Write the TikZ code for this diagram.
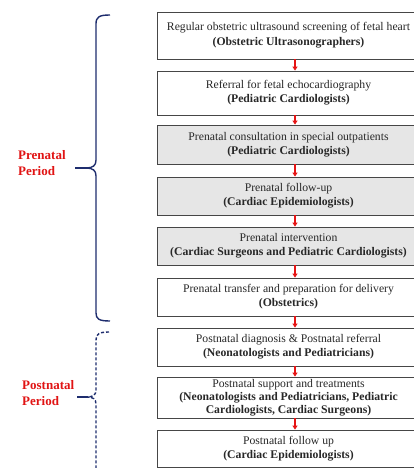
\documentclass[tikz,border=0pt]{standalone}
\usepackage{fontspec}
\setmainfont{Liberation Serif}
\usetikzlibrary{arrows.meta}
\definecolor{arrred}{RGB}{230,20,20}
\definecolor{labred}{RGB}{225,20,20}
\definecolor{bracenavy}{RGB}{30,45,110}
\definecolor{boxgray}{RGB}{230,230,230}
\definecolor{boxline}{RGB}{70,70,70}
\definecolor{boxtext}{RGB}{40,40,40}
\tikzset{
  stagebox/.style={draw=boxline, line width=0.9pt, fill=white, minimum width=263pt, text=boxtext,
    align=center, inner sep=0pt, font=\fontsize{11.7}{13.8}\selectfont},
  graybox/.style={stagebox, fill=boxgray},
  flowarrow/.style={draw=arrred, line width=1.3pt, -{Triangle[length=4pt,width=5pt]}},
  period/.style={text=labred, font=\fontsize{13}{16}\selectfont\bfseries, align=left, inner sep=0pt, anchor=west},
  bracesolid/.style={draw=bracenavy, line width=1.4pt},
  bracedashed/.style={draw=bracenavy, line width=1.4pt, dash pattern=on 3pt off 2pt}
}
\begin{document}
\begin{tikzpicture}[x=1pt,y=-1pt]
\useasboundingbox (0,0) rectangle (414,468);
\clip (0,0) rectangle (414,468);
\fill[white] (0,0) rectangle (414,468);

\node[stagebox, minimum height=47pt, font=\fontsize{11.7}{15}\selectfont] (b1) at (288.5,35.5)
  {Regular obstetric ultrasound screening of fetal heart\\\textbf{(Obstetric Ultrasonographers)}};
\node[stagebox, minimum height=44pt] (b2) at (288.5,93)
  {Referral for fetal echocardiography\\\textbf{(Pediatric Cardiologists)}};
\node[graybox, minimum height=39pt] (b3) at (288.5,144.5)
  {Prenatal consultation in special outpatients\\\textbf{(Pediatric Cardiologists)}};
\node[graybox, minimum height=38pt] (b4) at (288.5,196)
  {Prenatal follow-up\\\textbf{(Cardiac Epidemiologists)}};
\node[graybox, minimum height=38pt] (b5) at (288.5,246)
  {Prenatal intervention\\\textbf{(Cardiac Surgeons and Pediatric Cardiologists)}};
\node[stagebox, minimum height=38pt] (b6) at (288.5,297)
  {Prenatal transfer and preparation for delivery\\\textbf{(Obstetrics)}};
\node[stagebox, minimum height=38pt] (b7) at (288.5,347)
  {Postnatal diagnosis \& Postnatal referral\\\textbf{(Neonatologists and Pediatricians)}};
\node[stagebox, minimum height=41pt, font=\fontsize{11.7}{13}\selectfont] (b8) at (288.5,397.5)
  {Postnatal support and treatments\\\textbf{(Neonatologists and Pediatricians, Pediatric}\\\textbf{Cardiologists, Cardiac Surgeons)}};
\node[stagebox, minimum height=37pt] (b9) at (288.5,448.5)
  {Postnatal follow up\\\textbf{(Cardiac Epidemiologists)}};

\foreach \a/\b in {b1/b2,b2/b3,b3/b4,b4/b5,b5/b6,b6/b7,b7/b8,b8/b9}
  \draw[flowarrow] ([xshift=6.5pt]\a.south) -- ([xshift=6.5pt]\b.north);

% Prenatal brace
\draw[bracesolid] (110,15) .. controls (99,15) and (96,17) .. (96,24) -- (96,160)
  .. controls (96,165.5) and (93,168) .. (86,168)
  .. controls (93,168) and (96,170.5) .. (96,176) -- (96,313)
  .. controls (96,319) and (99,321) .. (110,321);
\coordinate (pretip) at (75,168);
\coordinate (prejoin) at (87,168);
\draw[bracesolid] (pretip) -- (prejoin);

% Postnatal brace
\draw[bracedashed] (109,332) .. controls (99,332) and (96,334) .. (96,340) -- (96,390)
  .. controls (96,395) and (93,397) .. (87,397)
  .. controls (93,397) and (96,399) .. (96,404) -- (96,475);
\coordinate (posttip) at (77,397);
\coordinate (postjoin) at (88,397);
\draw[bracesolid] (posttip) -- (postjoin);

\node[period] (prelab) at (18,163) {Prenatal\\Period};
\node[period] (postlab) at (22,393) {Postnatal\\Period};
\end{tikzpicture}
\end{document}
